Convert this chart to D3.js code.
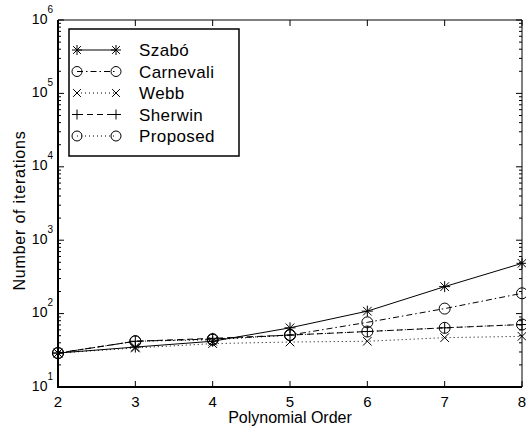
<!DOCTYPE html>
<html>
<head>
<meta charset="utf-8">
<script src="https://cdn.jsdelivr.net/npm/d3@7"></script>
<style>
  body { margin: 0; background: #fff; }
  text { font-family: "Liberation Sans", Arial, sans-serif; fill: #000; }
</style>
</head>
<body>
<div id="chart"></div>
<script>
// polynomial orders on the x axis
var orders = [2, 3, 4, 5, 6, 7, 8];

// iterations per method
var szabo     = [29, 35, 42, 64, 108, 233, 484];
var carnevali = [29, 42, 45, 51, 76, 117, 189];
var webb      = [29, 34, 39, 41, 42, 47, 49];
var sherwin   = [29, 42, 46, 51, 57, 64, 71];
var proposed  = [29, 42, 44, 51, 57, 64, 71];

var seriesNames = ["Szabó", "Carnevali", "Webb", "Sherwin", "Proposed"];
var yTickExps = [1, 2, 3, 4, 5, 6];

var series = [
  { name: seriesNames[0], values: szabo,     dash: null,        marker: "star" },
  { name: seriesNames[1], values: carnevali, dash: "6,3,1.5,3", marker: "circle" },
  { name: seriesNames[2], values: webb,      dash: "1,3",       marker: "x" },
  { name: seriesNames[3], values: sherwin,   dash: "6,4",       marker: "plus" },
  { name: seriesNames[4], values: proposed,  dash: "1,3",       marker: "circle" }
];

var svgWidth = 526, svgHeight = 430;
var margin = { top: 20, right: 4, bottom: 43, left: 58 };
var width = svgWidth - margin.left - margin.right;
var height = svgHeight - margin.top - margin.bottom;

var svg = d3.select("#chart")
  .append("svg")
  .attr("width", svgWidth)
  .attr("height", svgHeight)
  .append("g")
  .attr("transform", "translate(" + margin.left + "," + margin.top + ")");

var x = d3.scaleLinear().domain([2, 8]).range([0, width]);
var y = d3.scaleLog().domain([10, 1e6]).range([height, 0]);

// minor ticks 2..9 in every decade
var minorVals = [];
for (var e = 1; e < 6; e++) {
  for (var m = 2; m <= 9; m++) minorVals.push(m * Math.pow(10, e));
}

function drawMarker(g, type, cx, cy, s) {
  s = s || 5.5;
  if (type === "circle") {
    g.append("circle").attr("cx", cx).attr("cy", cy).attr("r", s)
      .attr("fill", "none").attr("stroke", "#000").attr("stroke-width", 1);
  }
  if (type === "plus" || type === "star") {
    g.append("line").attr("x1", cx - s).attr("x2", cx + s).attr("y1", cy).attr("y2", cy)
      .attr("stroke", "#000").attr("stroke-width", 1);
    g.append("line").attr("x1", cx).attr("x2", cx).attr("y1", cy - s).attr("y2", cy + s)
      .attr("stroke", "#000").attr("stroke-width", 1);
  }
  if (type === "x" || type === "star") {
    var d = s * 0.78;
    g.append("line").attr("x1", cx - d).attr("x2", cx + d).attr("y1", cy - d).attr("y2", cy + d)
      .attr("stroke", "#000").attr("stroke-width", 1);
    g.append("line").attr("x1", cx - d).attr("x2", cx + d).attr("y1", cy + d).attr("y2", cy - d)
      .attr("stroke", "#000").attr("stroke-width", 1);
  }
}

// lines + markers
var line = d3.line()
  .x(function(d, i) { return x(orders[i]); })
  .y(function(d) { return y(d); });

series.forEach(function(s) {
  svg.append("path")
    .datum(s.values)
    .attr("d", line)
    .attr("fill", "none")
    .attr("stroke", "#000")
    .attr("stroke-width", 1)
    .attr("stroke-dasharray", s.dash);
  var mg = svg.append("g");
  s.values.forEach(function(v, i) {
    drawMarker(mg, s.marker, x(orders[i]), y(v));
  });
});

// ticks, inward
var tickG = svg.append("g").attr("stroke", "#000").attr("stroke-width", 1);
minorVals.forEach(function(v) {
  tickG.append("line").attr("x1", 0).attr("x2", 3).attr("y1", y(v)).attr("y2", y(v));
  tickG.append("line").attr("x1", width).attr("x2", width - 3).attr("y1", y(v)).attr("y2", y(v));
});
yTickExps.forEach(function(e) {
  var v = Math.pow(10, e);
  tickG.append("line").attr("x1", 0).attr("x2", 6).attr("y1", y(v)).attr("y2", y(v));
  tickG.append("line").attr("x1", width).attr("x2", width - 6).attr("y1", y(v)).attr("y2", y(v));
});
orders.forEach(function(o) {
  tickG.append("line").attr("x1", x(o)).attr("x2", x(o)).attr("y1", height).attr("y2", height - 6);
  tickG.append("line").attr("x1", x(o)).attr("x2", x(o)).attr("y1", 0).attr("y2", 6);
});

// box
svg.append("line").attr("x1", 0).attr("x2", width).attr("y1", 0).attr("y2", 0)
  .attr("stroke", "#000").attr("stroke-width", 1);
svg.append("line").attr("x1", width).attr("x2", width).attr("y1", 0).attr("y2", height)
  .attr("stroke", "#000").attr("stroke-width", 1);
svg.append("line").attr("x1", 0).attr("x2", 0).attr("y1", 0).attr("y2", height + 1)
  .attr("stroke", "#000").attr("stroke-width", 2);
svg.append("line").attr("x1", -1).attr("x2", width).attr("y1", height).attr("y2", height)
  .attr("stroke", "#000").attr("stroke-width", 2);

// x tick labels
orders.forEach(function(o) {
  svg.append("text")
    .attr("x", x(o))
    .attr("y", height + 20)
    .attr("text-anchor", "middle")
    .style("font-size", "15px")
    .text(o);
});

// y tick labels 10^n
yTickExps.forEach(function(e) {
  var t = svg.append("text")
    .attr("x", -5)
    .attr("y", y(Math.pow(10, e)) + 3.5)
    .attr("text-anchor", "end")
    .style("font-size", "14px");
  t.append("tspan").text("10");
  t.append("tspan").attr("dy", -11).style("font-size", "10px").text(e);
});

// axis labels
svg.append("text")
  .attr("x", width / 2)
  .attr("y", height + 36)
  .attr("text-anchor", "middle")
  .style("font-size", "16px")
  .text("Polynomial Order");

svg.append("text")
  .attr("transform", "translate(" + (-33) + "," + (height / 2 + 7) + ") rotate(-90)")
  .attr("text-anchor", "middle")
  .style("font-size", "16px")
  .style("letter-spacing", "0.8px")
  .text("Number of iterations");

// legend
var leg = svg.append("g").attr("transform", "translate(11,9)");
leg.append("rect")
  .attr("width", 170).attr("height", 127)
  .attr("fill", "#fff").attr("stroke", "#000").attr("stroke-width", 1.5);

series.forEach(function(s, i) {
  var ly = 21 + i * 21.5;
  leg.append("line")
    .attr("x1", 8).attr("x2", 47).attr("y1", ly).attr("y2", ly)
    .attr("stroke", "#000").attr("stroke-width", 1)
    .attr("stroke-dasharray", s.dash);
  drawMarker(leg, s.marker, 8, ly, 5);
  drawMarker(leg, s.marker, 47, ly, 5);
  leg.append("text")
    .attr("x", 70).attr("y", ly + 6)
    .style("font-size", "17px")
    .style("letter-spacing", "0.4px")
    .text(s.name);
});
</script>
</body>
</html>
